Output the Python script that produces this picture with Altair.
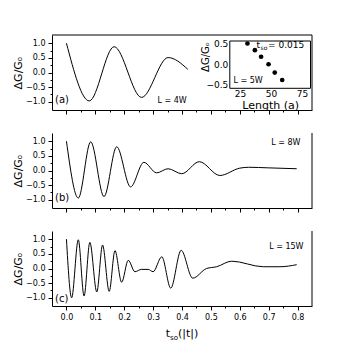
import altair as alt
import pandas as pd

# ---------------- data ----------------
# panel (a)  L = 4W
t_a = [0.0, 0.079, 0.165, 0.26, 0.352, 0.42]
g_a = [1.0, -0.97, 0.88, -0.85, 0.51, 0.11]

# panel (b)  L = 8W
t_b = [0.0, 0.041, 0.084, 0.13, 0.174, 0.222, 0.268, 0.312, 0.352, 0.399,
       0.46, 0.531, 0.6, 0.63, 0.7, 0.797]
g_b = [1.0, -0.94, 0.98, -0.89, 0.81, -0.56, 0.28, -0.08, 0.06, -0.11,
       0.3, -0.17, 0.08, 0.11, 0.09, 0.06]

# panel (c)  L = 15W
t_c = [0.0, 0.018, 0.041, 0.061, 0.081, 0.105, 0.125, 0.148, 0.168, 0.191,
       0.214, 0.237, 0.26, 0.283, 0.3, 0.33, 0.361, 0.397, 0.437, 0.485,
       0.52, 0.572, 0.681, 0.739, 0.797]
g_c = [1.0, -1.0, 0.98, -0.94, 0.89, -0.8, 0.8, -0.78, 0.61, -0.47,
       0.28, -0.11, -0.03, -0.03, -0.11, 0.4, -0.67, 0.62, -0.33, 0.0,
       0.06, 0.25, 0.06, 0.06, 0.13]

# inset: t_so = 0.015, L = 5W
inset_length = [31, 37, 42, 48, 53, 59]
inset_dg = [0.5, 0.34, 0.18, 0.0, -0.2, -0.38]

x_ticks = [round(0.05 * i, 2) for i in range(17)]
y_ticks = [-1.0, -0.75, -0.5, -0.25, 0.0, 0.25, 0.5, 0.75, 1.0]
inset_x_ticks = [25, 50, 75]
inset_y_ticks = [-0.5, 0.0, 0.5]

panel_tags = ["(a)", "(b)", "(c)"]
panel_L = ["L = 4W", "L = 8W", "L = 15W"]

# ---------------- styling ----------------
W, H = 260, 75
FONT = "DejaVu Sans"
X_DOM = [-0.05, 0.85]
Y_DOM = [-1.28, 1.28]
one = pd.DataFrame({"d": [0]})

major_x = "abs(datum.value*10 - round(datum.value*10)) < 0.001"
major_y = "abs(datum.value*2 - round(datum.value*2)) < 0.001"


def x_axis(show_labels):
    return alt.Axis(
        values=x_ticks, title=None, labels=show_labels,
        labelExpr=f"{major_x} ? format(datum.value, '.1f') : ''",
        labelOverlap=False, labelFont=FONT, labelFontSize=8, labelPadding=3,
        tickSize={"condition": {"test": major_x, "value": 4}, "value": 2},
        grid=False,
    )


def y_axis():
    return alt.Axis(
        values=y_ticks, title="ΔG/Gₒ", titleFont=FONT, titleFontSize=11,
        titleFontWeight="normal", titlePadding=2,
        labelExpr=f"{major_y} ? format(datum.value, '.1f') : ''",
        labelOverlap=False, labelFont=FONT, labelFontSize=8, labelPadding=3,
        tickSize={"condition": {"test": major_y, "value": 4}, "value": 2},
        grid=False,
    )


def txt(s, x, y, size, align="left", baseline="middle", angle=0):
    kw = dict(text=s, fontSize=size, font=FONT, align=align,
              baseline=baseline, color="black")
    if angle:
        kw["angle"] = angle
    return alt.Chart(one).mark_text(**kw).encode(x=alt.value(x), y=alt.value(y))


def panel(t, g, idx, show_x_labels, top_border):
    df = pd.DataFrame({"t": t, "g": g})
    line = alt.Chart(df).mark_line(
        color="black", strokeWidth=1, interpolate="monotone"
    ).encode(
        x=alt.X("t:Q", scale=alt.Scale(domain=X_DOM, nice=False, zero=False),
                axis=x_axis(show_x_labels)),
        y=alt.Y("g:Q", scale=alt.Scale(domain=Y_DOM, nice=False, zero=False),
                axis=y_axis()),
    )
    right = alt.Chart(one).mark_rule(color="black", strokeWidth=1).encode(
        x=alt.value(W), y=alt.value(0), y2=alt.value(H))
    layers = [line, right]
    if top_border:
        layers.append(alt.Chart(one).mark_rule(color="black", strokeWidth=1).encode(
            x=alt.value(0), x2=alt.value(W), y=alt.value(0)))
    tag_y = [65, 65, 68][idx]
    layers.append(txt(panel_tags[idx], 3, tag_y, 10))
    if idx == 0:
        layers.append(txt(panel_L[idx], 105.5, 66, 8))
    elif idx == 1:
        layers.append(txt(panel_L[idx], 248.5, 9.5, 8, align="right"))
    else:
        layers.append(txt(panel_L[idx], 251.5, 16, 8, align="right"))
    return layers


# ---------- panel (a) with inset ----------
IX0, IX1 = 16.8, 81.8
IY0, IY1 = -0.58, 0.56
xs_in = alt.Scale(domain=[IX0, IX1], range=[177.8, 258.5], nice=False, zero=False)
ys_in = alt.Scale(domain=[IY0, IY1], range=[53.3, 6], nice=False, zero=False)

frame = alt.Chart(pd.DataFrame({"x1": [IX0], "x2": [IX1], "y1": [IY0], "y2": [IY1]})).mark_rect(
    fill="white", stroke="black", strokeWidth=1
).encode(
    x=alt.X("x1:Q", scale=xs_in, axis=None), x2="x2:Q",
    y=alt.Y("y1:Q", scale=ys_in, axis=None), y2="y2:Q",
)
inset_df = pd.DataFrame({"L": inset_length, "dG": inset_dg})
pts = alt.Chart(inset_df).mark_circle(color="black", size=22, opacity=1).encode(
    x=alt.X("L:Q", scale=xs_in, axis=alt.Axis(
        orient="bottom", offset=-(H - 53.3), values=inset_x_ticks, ticks=False,
        domain=False, labelFont=FONT, labelFontSize=9, labelPadding=1,
        title="Length (a)", titleFont=FONT, titleFontSize=11,
        titleFontWeight="normal", titlePadding=1, zindex=1, grid=False)),
    y=alt.Y("dG:Q", scale=ys_in, axis=alt.Axis(
        orient="left", offset=-177.8, values=inset_y_ticks, format=".1f",
        ticks=False, domain=False, labelFont=FONT, labelFontSize=9,
        labelPadding=2, title=None, zindex=1, grid=False)),
)
inset_texts = [
    txt("ΔG/Gₒ", 154, 22, 10, align="center", angle=270),
    txt("t", 204.5, 12.5, 9, baseline="alphabetic"),
    txt("so", 208.5, 15, 6, baseline="alphabetic"),
    txt("= 0.015", 216, 12.5, 9, baseline="alphabetic"),
    txt("L = 5W", 181.5, 46, 8),
]

pa = alt.layer(*panel(t_a, g_a, 0, False, True), frame, pts, *inset_texts).properties(
    width=W, height=H).resolve_scale(x="independent", y="independent")

pb = alt.layer(*panel(t_b, g_b, 1, False, False)).properties(width=W, height=H)

xtitle = [
    txt("t", 113.8, 106, 11, baseline="alphabetic"),
    txt("so", 118.1, 109, 7, baseline="alphabetic"),
    txt("(|t|)", 126, 106, 11, baseline="alphabetic"),
]
pc = alt.layer(*panel(t_c, g_c, 2, True, False), *xtitle).properties(width=W, height=H)

chart = alt.vconcat(pa, pb, pc, spacing=17).resolve_scale(
    x="independent", y="independent"
).properties(
    padding={"left": 4, "top": 26, "right": 5, "bottom": 5}
).configure_view(stroke=None).configure_axis(
    domainColor="black", tickColor="black", labelColor="black",
    titleColor="black", domainWidth=1, tickWidth=1,
)

chart.save("out.html", embed_options={"renderer": "svg", "actions": False})
